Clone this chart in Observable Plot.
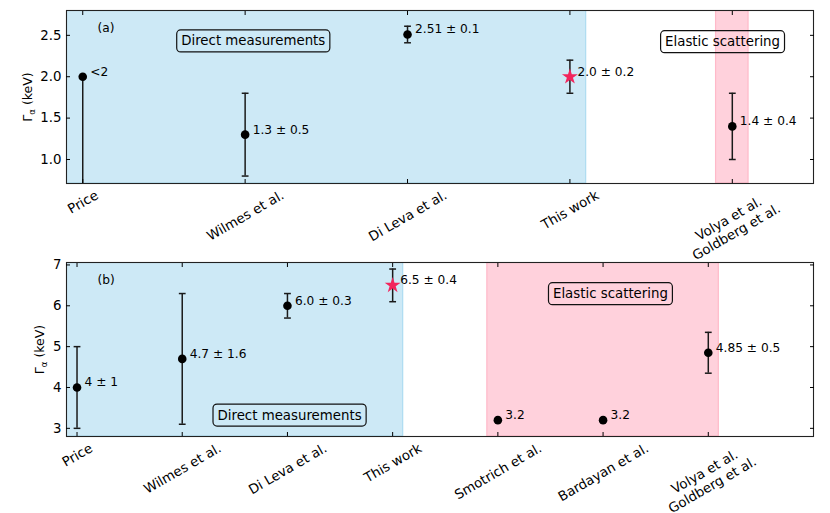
<!DOCTYPE html>
<html><head><meta charset="utf-8">
<script src="https://cdn.jsdelivr.net/npm/d3@7"></script>
<script src="https://cdn.jsdelivr.net/npm/@observablehq/plot@0.6"></script>
<style>
body{margin:0;background:#fff;}
#chart{position:relative;width:830px;height:513px;}
#chart svg{display:block;overflow:visible;}
</style></head><body><div id="chart"></div>
<script>
const FONT = "DejaVu Sans";
const FS = 13.33;      // tick labels & boxed labels
const FS_VAL = 12.2;   // value annotations
const FS_YL = 12.5;    // y-axis title

// ---- Panel (a) ----
const catsA = ["Price", "Wilmes et al.", "Di Leva et al.", "This work", "Volya et al.\nGoldberg et al."];
const valsA = [2.0, 1.3, 2.51, 2.0, 1.4];
const errDownA = [2.0, 0.5, 0.1, 0.2, 0.4];   // Price is an upper limit (line runs down)
const errUpA = [0, 0.5, 0.1, 0.2, 0.4];
const capsA = [false, true, true, true, true];
const textA = ["<2", "1.3 ± 0.5", "2.51 ± 0.1", "2.0 ± 0.2", "1.4 ± 0.4"];
const markerA = ["circle", "circle", "circle", "star", "circle"];
const yTicksA = [1.0, 1.5, 2.0, 2.5];
const regionsA = [
  {kind: "direct", x1: -0.5, x2: 3.1},
  {kind: "elastic", x1: 3.9, x2: 4.1}
];
const boxesA = [
  {text: "Direct measurements", x: 1.05, y: 2.43},
  {text: "Elastic scattering", x: 3.94, y: 2.42}
];

// ---- Panel (b) ----
const catsB = ["Price", "Wilmes et al.", "Di Leva et al.", "This work", "Smotrich et al.", "Bardayan et al.", "Volya et al.\nGoldberg et al."];
const valsB = [4.0, 4.7, 6.0, 6.5, 3.2, 3.2, 4.85];
const errB = [1.0, 1.6, 0.3, 0.4, 0, 0, 0.5];
const capsB = [true, true, true, true, false, false, true];
const textB = ["4 ± 1", "4.7 ± 1.6", "6.0 ± 0.3", "6.5 ± 0.4", "3.2", "3.2", "4.85 ± 0.5"];
const markerB = ["circle", "circle", "circle", "star", "circle", "circle", "circle"];
const yTicksB = [3, 4, 5, 6, 7];
const regionsB = [
  {kind: "direct", x1: -0.5, x2: 3.1},
  {kind: "elastic", x1: 3.9, x2: 6.1}
];
const boxesB = [
  {text: "Direct measurements", x: 2.02, y: 3.32},
  {text: "Elastic scattering", x: 5.07, y: 6.29}
];

const regionStyle = {
  direct: {fill: "#cde9f6", stroke: "#addcf1"},
  elastic: {fill: "#ffd1dc", stroke: "#ffb9c9"}
};
const STAR = "#f2255c";
const INK = "#1a1a1a";
const Y_TITLE = "Γα (keV)";

const measure = document.createElement("canvas").getContext("2d");
measure.font = `${FS}px "${FONT}"`;

const capSymbol = {
  draw(ctx, size) {
    const w = Math.sqrt(size / Math.PI);
    ctx.moveTo(-w, 0); ctx.lineTo(w, 0);
  }
};

function tickLabelMarks(cats) {
  const pad = 4;
  const LH = 1.15;
  return cats.map((c, i) => {
    const lines = c.split("\n");
    const w = d3.max(lines, l => measure.measureText(l).width);
    const h = (lines.length - 1) * LH * FS + 1.05 * FS;
    const H = w * Math.sin(Math.PI / 6) + h * Math.cos(Math.PI / 6);
    return Plot.text([{x: i, t: c}], {
      x: "x", text: "t", frameAnchor: "bottom", dy: pad + H / 2,
      rotate: -30, textAnchor: "middle", lineAnchor: "middle", lineHeight: LH,
      fontSize: FS, fill: "black"
    });
  });
}

function panel({cats, vals, lo, hi, caps, texts, markers, yTicks, yDomain, xDomain, regions, boxes, tag, height, marginTop, marginBottom, yLabelDx, yFormat}) {
  const pts = cats.map((c, i) => ({i, v: vals[i], lo: vals[i] - lo[i], hi: vals[i] + hi[i], cap: caps[i], t: texts[i], m: markers[i]}));
  const errPts = pts.filter(d => d.hi > d.lo);
  const capPts = pts.filter(d => d.cap && d.hi > d.lo).flatMap(d => [{i: d.i, y: d.lo}, {i: d.i, y: d.hi}]);
  const xTicks = d3.range(cats.length);
  return Plot.plot({
    width: 830, height, marginTop, marginBottom, marginLeft: 66, marginRight: 17,
    style: {fontFamily: FONT, fontSize: FS + "px", color: "black", background: "white"},
    x: {domain: xDomain, ticks: xTicks},
    y: {domain: yDomain, ticks: yTicks},
    marks: [
      ...regions.map(r => Plot.rect([r], {x1: "x1", x2: "x2", fill: regionStyle[r.kind].fill, stroke: regionStyle[r.kind].stroke, strokeWidth: 1.2, clip: true})),
      Plot.ruleX(errPts, {x: "i", y1: "lo", y2: "hi", stroke: INK, strokeWidth: 1.5, clip: true}),
      Plot.dot(capPts, {x: "i", y: "y", symbol: capSymbol, r: 3.4, stroke: INK, strokeWidth: 1.5}),
      Plot.dot(pts.filter(d => d.m === "circle"), {x: "i", y: "v", r: 4.3, fill: "black", stroke: null}),
      Plot.dot(pts.filter(d => d.m === "star"), {x: "i", y: "v", symbol: "star", r: 5, fill: STAR, stroke: null}),
      Plot.text(pts, {x: "i", y: "v", text: "t", dx: 7.5, dy: -5, textAnchor: "start", fontSize: FS_VAL, fill: "black"}),
      Plot.text(boxes, {x: "x", y: "y", text: "text", fontSize: FS, fill: "black"}),
      Plot.text([tag], {frameAnchor: "top-left", dx: 31, dy: 13, textAnchor: "start", fontSize: FS_VAL, fill: "black"}),
      Plot.frame({stroke: "#222", strokeWidth: 1.1}),
      Plot.axisY({anchor: "left", ticks: yTicks, tickSize: -4, tickPadding: 9, tickFormat: yFormat, label: null, fontSize: FS}),
      Plot.axisY({anchor: "right", ticks: yTicks, tickSize: -4, tickFormat: () => "", label: null}),
      Plot.axisX({anchor: "bottom", ticks: xTicks, tickSize: -4, tickFormat: () => "", label: null}),
      Plot.axisX({anchor: "top", ticks: xTicks, tickSize: -4, tickFormat: () => "", label: null}),
      ...tickLabelMarks(cats),
      Plot.text([Y_TITLE], {frameAnchor: "left", dx: yLabelDx, rotate: -90, textAnchor: "middle", lineAnchor: "middle", fontSize: FS_YL, fill: "black"})
    ]
  });
}

const chart = document.getElementById("chart");
const panelA = panel({
  cats: catsA, vals: valsA, lo: errDownA, hi: errUpA, caps: capsA, texts: textA, markers: markerA,
  yTicks: yTicksA, yDomain: [0.71, 2.80], xDomain: [-0.1, 4.5], regions: regionsA, boxes: boxesA,
  tag: "(a)", height: 252, marginTop: 10, marginBottom: 69, yLabelDx: -39, yFormat: d3.format(".1f")
});
const panelB = panel({
  cats: catsB, vals: valsB, lo: errB, hi: errB, caps: capsB, texts: textB, markers: markerB,
  yTicks: yTicksB, yDomain: [2.80, 7.06], xDomain: [-0.1, 7.0], regions: regionsB, boxes: boxesB,
  tag: "(b)", height: 261, marginTop: 10, marginBottom: 77, yLabelDx: -27, yFormat: d3.format("d")
});
chart.append(panelA, panelB);

// post-process: subscript alpha and rounded boxes around the region labels
const ns = "http://www.w3.org/2000/svg";
const boxTexts = new Set([...boxesA, ...boxesB].map(b => b.text));
for (const svg of [panelA, panelB]) {
  svg.querySelectorAll("text").forEach(t => {
    if (t.textContent === Y_TITLE) {
      t.textContent = "";
      const a = document.createElementNS(ns, "tspan"); a.textContent = "Γ";
      const b = document.createElementNS(ns, "tspan"); b.textContent = "α"; b.setAttribute("font-size", "8.5px"); b.setAttribute("dy", "3");
      const c = document.createElementNS(ns, "tspan"); c.textContent = " (keV)"; c.setAttribute("dy", "-3");
      t.append(a, b, c);
    } else if (boxTexts.has(t.textContent)) {
      const bb = t.getBBox();
      const r = document.createElementNS(ns, "rect");
      const px = 4.5, py = 3.5;
      r.setAttribute("x", bb.x - px); r.setAttribute("y", bb.y - py);
      r.setAttribute("width", bb.width + 2 * px); r.setAttribute("height", bb.height + 2 * py);
      r.setAttribute("rx", 4); r.setAttribute("fill", "none"); r.setAttribute("stroke", "#111"); r.setAttribute("stroke-width", 1.2);
      if (t.getAttribute("transform")) r.setAttribute("transform", t.getAttribute("transform"));
      t.parentNode.insertBefore(r, t);
    }
  });
}
</script></body></html>
